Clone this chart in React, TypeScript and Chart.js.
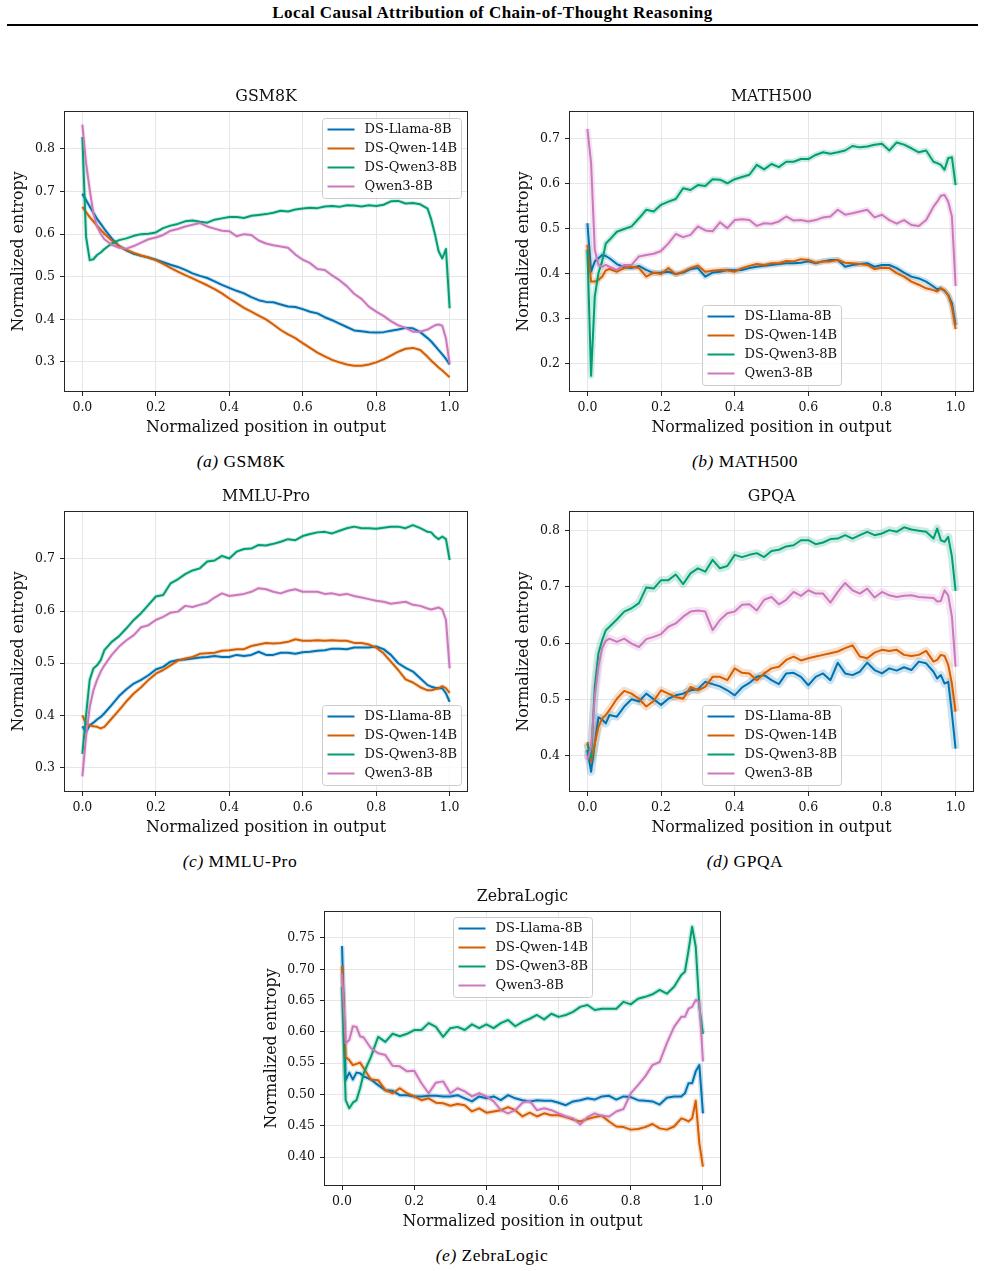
import { useEffect, useRef } from 'react';
import { Chart, registerables } from 'chart.js';

Chart.register(...registerables);

// Normalized positions along the output at which entropy was sampled.
const POSITIONS = [
  0, 0.01, 0.02, 0.03, 0.04, 0.05, 0.06,
  0.08, 0.10, 0.12, 0.14, 0.16, 0.18, 0.20, 0.22, 0.24, 0.26,
  0.28, 0.30, 0.32, 0.34, 0.36, 0.38, 0.40, 0.42, 0.44, 0.46,
  0.48, 0.50, 0.52, 0.54, 0.56, 0.58, 0.60, 0.62, 0.64, 0.66,
  0.68, 0.70, 0.72, 0.74, 0.76, 0.78, 0.80, 0.82, 0.84, 0.86,
  0.88, 0.90, 0.92, 0.94,
  0.95, 0.96, 0.97, 0.98, 0.99, 1.0,
];

const MODELS = ['DS-Llama-8B', 'DS-Qwen-14B', 'DS-Qwen3-8B', 'Qwen3-8B'];
const COLORS = ['#0173B2', '#D55E00', '#029E73', '#CC78BC'];

const X_TICKS = [0, 0.2, 0.4, 0.6, 0.8, 1.0];

// ---- GSM8K ----
const GSM8K_LLAMA = [
  0.695, 0.680, 0.665, 0.650, 0.636, 0.624, 0.612,
  0.590, 0.572, 0.562, 0.554, 0.549, 0.545, 0.540, 0.534, 0.528, 0.523,
  0.516, 0.508, 0.502, 0.497, 0.489, 0.481, 0.474, 0.467, 0.461, 0.452,
  0.445, 0.441, 0.440, 0.435, 0.430, 0.429, 0.424, 0.418, 0.414, 0.405,
  0.398, 0.390, 0.382, 0.374, 0.372, 0.370, 0.369, 0.370, 0.373, 0.376,
  0.380, 0.379, 0.370, 0.356,
  0.348, 0.338, 0.328, 0.318, 0.307, 0.294,
];
const GSM8K_QWEN14 = [
  0.664, 0.652, 0.640, 0.630, 0.620, 0.610, 0.601,
  0.585, 0.572, 0.563, 0.556, 0.550, 0.545, 0.539, 0.530, 0.521, 0.512,
  0.504, 0.496, 0.488, 0.480, 0.471, 0.461, 0.449, 0.438, 0.427, 0.418,
  0.409, 0.400, 0.388, 0.375, 0.365, 0.356, 0.344, 0.333, 0.322, 0.313,
  0.305, 0.299, 0.294, 0.291, 0.291, 0.294, 0.299, 0.306, 0.315, 0.324,
  0.331, 0.333, 0.328, 0.312,
  0.303, 0.295, 0.287, 0.280, 0.272, 0.264,
];
const GSM8K_QWEN3 = [
  0.828, 0.594, 0.539, 0.541, 0.551, 0.557, 0.565,
  0.578, 0.586, 0.590, 0.596, 0.600, 0.601, 0.604, 0.614, 0.620, 0.624,
  0.630, 0.632, 0.629, 0.627, 0.634, 0.637, 0.640, 0.640, 0.638, 0.643,
  0.645, 0.647, 0.650, 0.655, 0.653, 0.658, 0.660, 0.662, 0.661, 0.665,
  0.666, 0.664, 0.668, 0.667, 0.665, 0.668, 0.666, 0.669, 0.677, 0.678,
  0.672, 0.673, 0.670, 0.660,
  0.634, 0.600, 0.560, 0.543, 0.565, 0.426,
];
const GSM8K_BASE = [
  0.857, 0.767, 0.704, 0.649, 0.618, 0.601, 0.588,
  0.575, 0.568, 0.566, 0.572, 0.580, 0.588, 0.592, 0.598, 0.608, 0.612,
  0.618, 0.622, 0.626, 0.618, 0.613, 0.608, 0.607, 0.595, 0.600, 0.598,
  0.585, 0.578, 0.574, 0.571, 0.568, 0.552, 0.540, 0.532, 0.518, 0.516,
  0.503, 0.492, 0.478, 0.460, 0.448, 0.430, 0.418, 0.408, 0.396, 0.386,
  0.380, 0.371, 0.371, 0.376,
  0.381, 0.386, 0.388, 0.385, 0.355, 0.296,
];

// ---- MATH500 ----
const MATH_LLAMA = [
  0.512, 0.404, 0.427, 0.434, 0.441, 0.439, 0.434,
  0.421, 0.414, 0.412, 0.417, 0.408, 0.401, 0.402, 0.404, 0.399, 0.402,
  0.410, 0.412, 0.393, 0.402, 0.404, 0.408, 0.407, 0.408, 0.412, 0.415,
  0.417, 0.419, 0.421, 0.423, 0.423, 0.424, 0.427, 0.423, 0.427, 0.430,
  0.430, 0.415, 0.419, 0.421, 0.423, 0.415, 0.419, 0.419, 0.412, 0.402,
  0.393, 0.389, 0.382, 0.371,
  0.365, 0.367, 0.362, 0.352, 0.334, 0.285,
];
const MATH_QWEN14 = [
  0.464, 0.382, 0.382, 0.386, 0.393, 0.407, 0.410,
  0.404, 0.412, 0.415, 0.412, 0.393, 0.402, 0.399, 0.412, 0.398, 0.404,
  0.412, 0.418, 0.404, 0.406, 0.408, 0.407, 0.404, 0.412, 0.417, 0.421,
  0.419, 0.423, 0.423, 0.428, 0.427, 0.432, 0.430, 0.424, 0.427, 0.427,
  0.430, 0.424, 0.423, 0.421, 0.419, 0.410, 0.413, 0.412, 0.401, 0.393,
  0.382, 0.375, 0.367, 0.363,
  0.360, 0.367, 0.362, 0.352, 0.326, 0.276,
];
const MATH_QWEN3 = [
  0.453, 0.172, 0.349, 0.401, 0.427, 0.467, 0.475,
  0.493, 0.499, 0.505, 0.523, 0.542, 0.538, 0.553, 0.560, 0.566, 0.590,
  0.586, 0.597, 0.595, 0.610, 0.609, 0.601, 0.610, 0.615, 0.620, 0.642,
  0.632, 0.644, 0.637, 0.649, 0.649, 0.655, 0.655, 0.664, 0.670, 0.667,
  0.670, 0.674, 0.684, 0.681, 0.683, 0.687, 0.689, 0.674, 0.692, 0.687,
  0.679, 0.670, 0.674, 0.649,
  0.646, 0.642, 0.631, 0.657, 0.659, 0.597,
];
const MATH_BASE = [
  0.722, 0.646, 0.453, 0.419, 0.415, 0.419, 0.415,
  0.408, 0.419, 0.419, 0.438, 0.441, 0.444, 0.450, 0.467, 0.488, 0.481,
  0.486, 0.505, 0.496, 0.494, 0.514, 0.501, 0.519, 0.521, 0.519, 0.506,
  0.512, 0.511, 0.516, 0.527, 0.518, 0.519, 0.516, 0.519, 0.525, 0.527,
  0.542, 0.531, 0.534, 0.538, 0.542, 0.525, 0.531, 0.519, 0.511, 0.519,
  0.508, 0.506, 0.519, 0.549,
  0.560, 0.573, 0.575, 0.560, 0.527, 0.372,
];

// ---- MMLU-Pro ----
const MMLU_LLAMA = [
  0.379, 0.368, 0.381, 0.386, 0.392, 0.397, 0.404,
  0.420, 0.437, 0.450, 0.461, 0.468, 0.477, 0.488, 0.493, 0.503, 0.506,
  0.507, 0.509, 0.511, 0.512, 0.514, 0.512, 0.512, 0.516, 0.514, 0.516,
  0.522, 0.516, 0.516, 0.520, 0.520, 0.518, 0.521, 0.522, 0.524, 0.525,
  0.528, 0.528, 0.527, 0.530, 0.530, 0.530, 0.532, 0.527, 0.516, 0.500,
  0.491, 0.484, 0.471, 0.458,
  0.455, 0.453, 0.452, 0.452, 0.442, 0.426,
];
const MMLU_QWEN14 = [
  0.400, 0.384, 0.381, 0.379, 0.378, 0.375, 0.378,
  0.394, 0.410, 0.427, 0.442, 0.454, 0.468, 0.480, 0.487, 0.496, 0.505,
  0.509, 0.512, 0.518, 0.519, 0.520, 0.524, 0.525, 0.527, 0.527, 0.533,
  0.536, 0.539, 0.538, 0.539, 0.541, 0.546, 0.543, 0.543, 0.544, 0.543,
  0.544, 0.543, 0.543, 0.539, 0.539, 0.536, 0.530, 0.519, 0.503, 0.487,
  0.469, 0.463, 0.454, 0.448,
  0.448, 0.450, 0.452, 0.456, 0.452, 0.443,
];
const MMLU_QWEN3 = [
  0.326, 0.400, 0.468, 0.490, 0.496, 0.506, 0.525,
  0.541, 0.552, 0.567, 0.583, 0.596, 0.612, 0.628, 0.631, 0.653, 0.661,
  0.671, 0.678, 0.682, 0.695, 0.697, 0.706, 0.701, 0.714, 0.719, 0.720,
  0.727, 0.726, 0.729, 0.733, 0.738, 0.736, 0.744, 0.748, 0.751, 0.752,
  0.749, 0.754, 0.759, 0.762, 0.759, 0.759, 0.758, 0.760, 0.762, 0.762,
  0.759, 0.765, 0.759, 0.752,
  0.751, 0.743, 0.738, 0.743, 0.738, 0.698,
];
const MMLU_BASE = [
  0.283, 0.359, 0.416, 0.448, 0.468, 0.484, 0.496,
  0.516, 0.532, 0.544, 0.554, 0.569, 0.573, 0.583, 0.589, 0.597, 0.599,
  0.610, 0.608, 0.612, 0.616, 0.626, 0.634, 0.629, 0.631, 0.633, 0.637,
  0.644, 0.642, 0.637, 0.634, 0.639, 0.642, 0.637, 0.637, 0.637, 0.633,
  0.634, 0.631, 0.633, 0.629, 0.626, 0.623, 0.620, 0.618, 0.614, 0.616,
  0.618, 0.612, 0.610, 0.605,
  0.603, 0.605, 0.607, 0.603, 0.583, 0.490,
];

// ---- GPQA ----
const GPQA_LLAMA = [
  0.410, 0.371, 0.421, 0.468, 0.464, 0.457, 0.472,
  0.469, 0.487, 0.500, 0.496, 0.510, 0.500, 0.490, 0.501, 0.507, 0.510,
  0.516, 0.518, 0.531, 0.527, 0.523, 0.516, 0.507, 0.521, 0.529, 0.540,
  0.543, 0.534, 0.527, 0.546, 0.547, 0.540, 0.525, 0.540, 0.546, 0.534,
  0.565, 0.546, 0.543, 0.549, 0.565, 0.552, 0.546, 0.555, 0.551, 0.557,
  0.552, 0.567, 0.564, 0.549,
  0.537, 0.543, 0.528, 0.531, 0.475, 0.412,
];
const GPQA_QWEN14 = [
  0.424, 0.389, 0.421, 0.451, 0.466, 0.472, 0.481,
  0.501, 0.515, 0.510, 0.501, 0.487, 0.497, 0.516, 0.510, 0.504, 0.501,
  0.522, 0.516, 0.522, 0.540, 0.540, 0.534, 0.555, 0.547, 0.546, 0.534,
  0.546, 0.555, 0.558, 0.570, 0.576, 0.569, 0.573, 0.576, 0.579, 0.582,
  0.585, 0.591, 0.596, 0.576, 0.573, 0.583, 0.588, 0.586, 0.588, 0.579,
  0.577, 0.579, 0.586, 0.567,
  0.570, 0.579, 0.577, 0.561, 0.528, 0.478,
];
const GPQA_QWEN3 = [
  0.421, 0.395, 0.522, 0.582, 0.605, 0.623, 0.629,
  0.642, 0.656, 0.662, 0.671, 0.699, 0.697, 0.712, 0.712, 0.722, 0.705,
  0.724, 0.733, 0.727, 0.748, 0.733, 0.737, 0.757, 0.753, 0.757, 0.760,
  0.753, 0.764, 0.766, 0.772, 0.774, 0.783, 0.783, 0.776, 0.779, 0.785,
  0.786, 0.792, 0.786, 0.792, 0.798, 0.792, 0.795, 0.801, 0.798, 0.806,
  0.802, 0.800, 0.798, 0.786,
  0.804, 0.783, 0.780, 0.789, 0.754, 0.693,
];
const GPQA_BASE = [
  0.392, 0.415, 0.504, 0.558, 0.591, 0.604, 0.608,
  0.602, 0.608, 0.599, 0.593, 0.607, 0.611, 0.616, 0.629, 0.635, 0.647,
  0.656, 0.658, 0.656, 0.623, 0.641, 0.653, 0.656, 0.668, 0.669, 0.658,
  0.677, 0.682, 0.669, 0.677, 0.691, 0.684, 0.694, 0.688, 0.688, 0.672,
  0.691, 0.707, 0.694, 0.688, 0.697, 0.681, 0.691, 0.685, 0.682, 0.684,
  0.685, 0.682, 0.681, 0.680,
  0.674, 0.675, 0.694, 0.685, 0.647, 0.558,
];

// ---- ZebraLogic ----
const ZEBRA_LLAMA = [
  0.737, 0.523, 0.535, 0.524, 0.535, 0.534, 0.529,
  0.524, 0.515, 0.507, 0.506, 0.499, 0.499, 0.497, 0.497, 0.498, 0.498,
  0.497, 0.497, 0.499, 0.494, 0.489, 0.497, 0.494, 0.497, 0.491, 0.499,
  0.494, 0.491, 0.489, 0.491, 0.490, 0.490, 0.487, 0.483, 0.489, 0.491,
  0.494, 0.492, 0.497, 0.498, 0.492, 0.497, 0.496, 0.491, 0.490, 0.489,
  0.484, 0.495, 0.497, 0.497,
  0.502, 0.518, 0.518, 0.537, 0.547, 0.470,
];
const ZEBRA_QWEN14 = [
  0.705, 0.560, 0.555, 0.547, 0.549, 0.551, 0.542,
  0.524, 0.523, 0.507, 0.502, 0.510, 0.502, 0.497, 0.491, 0.494, 0.487,
  0.486, 0.482, 0.485, 0.483, 0.473, 0.478, 0.471, 0.473, 0.475, 0.480,
  0.475, 0.465, 0.471, 0.465, 0.470, 0.467, 0.467, 0.464, 0.460, 0.457,
  0.461, 0.464, 0.466, 0.457, 0.449, 0.448, 0.444, 0.445, 0.448, 0.453,
  0.446, 0.444, 0.449, 0.462,
  0.460, 0.457, 0.462, 0.490, 0.422, 0.385,
];
const ZEBRA_QWEN3 = [
  0.672, 0.491, 0.478, 0.487, 0.491, 0.510, 0.534,
  0.560, 0.592, 0.584, 0.597, 0.593, 0.597, 0.603, 0.603, 0.614, 0.608,
  0.592, 0.606, 0.608, 0.603, 0.612, 0.606, 0.612, 0.606, 0.614, 0.619,
  0.609, 0.616, 0.621, 0.627, 0.620, 0.629, 0.624, 0.627, 0.632, 0.640,
  0.643, 0.635, 0.637, 0.637, 0.637, 0.648, 0.644, 0.653, 0.656, 0.660,
  0.667, 0.661, 0.672, 0.691,
  0.696, 0.730, 0.768, 0.736, 0.640, 0.597,
];
const ZEBRA_BASE = [
  0.693, 0.582, 0.587, 0.609, 0.608, 0.593, 0.591,
  0.574, 0.566, 0.563, 0.546, 0.545, 0.537, 0.538, 0.518, 0.502, 0.519,
  0.521, 0.502, 0.510, 0.505, 0.497, 0.502, 0.497, 0.489, 0.475, 0.470,
  0.475, 0.487, 0.490, 0.475, 0.478, 0.475, 0.470, 0.465, 0.462, 0.452,
  0.464, 0.470, 0.466, 0.465, 0.473, 0.477, 0.502, 0.515, 0.529, 0.547,
  0.552, 0.582, 0.608, 0.624,
  0.624, 0.637, 0.640, 0.651, 0.648, 0.553,
];

const GSM8K_Y_TICKS = [0.3, 0.4, 0.5, 0.6, 0.7, 0.8];
const MATH_Y_TICKS = [0.2, 0.3, 0.4, 0.5, 0.6, 0.7];
const MMLU_Y_TICKS = [0.3, 0.4, 0.5, 0.6, 0.7];
const GPQA_Y_TICKS = [0.4, 0.5, 0.6, 0.7, 0.8];
const ZEBRA_Y_TICKS = [0.40, 0.45, 0.50, 0.55, 0.60, 0.65, 0.70, 0.75];

const PLOT_FONT = "'DejaVu Serif', serif";
const PAPER_FONT = "'Liberation Serif', 'Times New Roman', serif";

type LegendPlace = 'upper right' | 'lower center' | 'lower right' | 'upper center';

type Panel = {
  title: string;
  letter: string;
  series: number[][];
  yMin: number;
  yMax: number;
  yTicks: number[];
  yDecimals: number;
  box: { left: number; top: number; width: number; height: number };
  legend: LegendPlace;
  band: number;
  yLabelGap: number;
  caption: { x: number; y: number };
};

const PANELS: Panel[] = [
  {
    title: 'GSM8K', letter: '(a)',
    series: [GSM8K_LLAMA, GSM8K_QWEN14, GSM8K_QWEN3, GSM8K_BASE],
    yMin: 0.2295, yMax: 0.889, yTicks: GSM8K_Y_TICKS, yDecimals: 1,
    box: { left: 64, top: 111, width: 404, height: 281 },
    legend: 'upper right', band: 4, yLabelGap: 45,
    caption: { x: 241, y: 461 },
  },
  {
    title: 'MATH500', letter: '(b)',
    series: [MATH_LLAMA, MATH_QWEN14, MATH_QWEN3, MATH_BASE],
    yMin: 0.136, yMax: 0.762, yTicks: MATH_Y_TICKS, yDecimals: 1,
    box: { left: 569, top: 111, width: 405, height: 281 },
    legend: 'lower center', band: 6, yLabelGap: 45,
    caption: { x: 745, y: 461 },
  },
  {
    title: 'MMLU-Pro', letter: '(c)',
    series: [MMLU_LLAMA, MMLU_QWEN14, MMLU_QWEN3, MMLU_BASE],
    yMin: 0.253, yMax: 0.792, yTicks: MMLU_Y_TICKS, yDecimals: 1,
    box: { left: 64, top: 511, width: 404, height: 281 },
    legend: 'lower right', band: 4, yLabelGap: 45,
    caption: { x: 240, y: 861 },
  },
  {
    title: 'GPQA', letter: '(d)',
    series: [GPQA_LLAMA, GPQA_QWEN14, GPQA_QWEN3, GPQA_BASE],
    yMin: 0.335, yMax: 0.835, yTicks: GPQA_Y_TICKS, yDecimals: 1,
    box: { left: 569, top: 511, width: 405, height: 281 },
    legend: 'lower center', band: 8, yLabelGap: 45,
    caption: { x: 745, y: 861 },
  },
  {
    title: 'ZebraLogic', letter: '(e)',
    series: [ZEBRA_LLAMA, ZEBRA_QWEN14, ZEBRA_QWEN3, ZEBRA_BASE],
    yMin: 0.354, yMax: 0.793, yTicks: ZEBRA_Y_TICKS, yDecimals: 2,
    box: { left: 324, top: 911, width: 397, height: 275 },
    legend: 'upper center', band: 5, yLabelGap: 52,
    caption: { x: 492, y: 1255 },
  },
];

// Space around the axes box inside each canvas.
const PAD_LEFT = 64;
const PAD_TOP = 32;
const PAD_RIGHT = 14;
const PAD_BOTTOM = 52;

function withAlpha(hex: string, alpha: number): string {
  const r = parseInt(hex.slice(1, 3), 16);
  const g = parseInt(hex.slice(3, 5), 16);
  const b = parseInt(hex.slice(5, 7), 16);
  return `rgba(${r},${g},${b},${alpha})`;
}

// Draws the axes frame, title, axis labels and the boxed legend.
const decorPlugin = {
  id: 'panelDecor',
  afterDraw(chart: any, _args: any, opts: any) {
    const { ctx, chartArea } = chart;
    const { left, top, right, bottom } = chartArea;
    const cx = (left + right) / 2;
    const cy = (top + bottom) / 2;
    ctx.save();

    // frame
    ctx.strokeStyle = '#262626';
    ctx.lineWidth = 1;
    ctx.strokeRect(left + 0.5, top + 0.5, right - left - 1, bottom - top - 1);

    ctx.fillStyle = '#111';
    ctx.textAlign = 'center';
    ctx.textBaseline = 'middle';

    // title
    ctx.font = `15.8px ${PLOT_FONT}`;
    ctx.fillText(opts.title, cx, top - 14);

    // x label
    ctx.fillText('Normalized position in output', cx, bottom + 36);

    // y label
    ctx.save();
    ctx.translate(left - opts.yLabelGap, cy);
    ctx.rotate(-Math.PI / 2);
    ctx.fillText('Normalized entropy', 0, 0);
    ctx.restore();

    // legend
    const entries = chart.data.datasets.filter((d: any) => !d.isBand);
    const boxW = 139;
    const rowH = 19;
    const boxH = entries.length * rowH + 4;
    let bx = right - 7 - boxW;
    let by = top + 7;
    if (opts.legend === 'lower center') {
      bx = cx - boxW / 2;
      by = bottom - 7 - boxH;
    } else if (opts.legend === 'lower right') {
      by = bottom - 7 - boxH;
    } else if (opts.legend === 'upper center') {
      bx = cx - boxW / 2;
      by = top + 6;
    }
    bx = Math.round(bx) + 0.5;
    by = Math.round(by) + 0.5;
    ctx.beginPath();
    ctx.roundRect(bx, by, boxW, boxH, 3);
    ctx.fillStyle = 'rgba(255,255,255,0.8)';
    ctx.fill();
    ctx.strokeStyle = '#cccccc';
    ctx.lineWidth = 1;
    ctx.stroke();

    ctx.font = `13px ${PLOT_FONT}`;
    ctx.textAlign = 'left';
    entries.forEach((d: any, i: number) => {
      const ry = by + 11 + i * rowH;
      ctx.strokeStyle = d.borderColor;
      ctx.lineWidth = 2;
      ctx.beginPath();
      ctx.moveTo(bx + 5, ry);
      ctx.lineTo(bx + 32, ry);
      ctx.stroke();
      ctx.fillStyle = '#111';
      ctx.fillText(d.label, bx + 42, ry + 0.5);
    });

    ctx.restore();
  },
};

function PanelChart({ panel }: { panel: Panel }) {
  const ref = useRef<HTMLCanvasElement>(null);
  const width = panel.box.width + PAD_LEFT + PAD_RIGHT;
  const height = panel.box.height + PAD_TOP + PAD_BOTTOM;

  useEffect(() => {
    const canvas = ref.current;
    if (!canvas) return;
    const datasets: any[] = [];
    MODELS.forEach((name, i) => {
      const points = POSITIONS.map((x, j) => ({ x, y: panel.series[i][j] }));
      datasets.push({
        label: name,
        data: points,
        borderColor: COLORS[i],
        backgroundColor: COLORS[i],
        borderWidth: 2,
        pointRadius: 0,
        tension: 0,
        borderJoinStyle: 'round',
        order: 10 - i,
      });
      datasets.push({
        label: name,
        isBand: true,
        data: points,
        borderColor: withAlpha(COLORS[i], 0.2),
        borderWidth: panel.band,
        pointRadius: 0,
        tension: 0,
        borderJoinStyle: 'round',
        order: 100 - i,
      });
    });

    const tickFont = { family: PLOT_FONT, size: 12.5 };
    const chart = new Chart(canvas, {
      type: 'line',
      data: { datasets },
      plugins: [decorPlugin],
      options: {
        animation: false,
        responsive: false,
        maintainAspectRatio: false,
        devicePixelRatio: 1,
        layout: { padding: { top: PAD_TOP, right: PAD_RIGHT, left: 0, bottom: 0 } },
        plugins: {
          legend: { display: false },
          tooltip: { enabled: false },
          title: { display: false },
          panelDecor: {
            title: panel.title,
            legend: panel.legend,
            yLabelGap: panel.yLabelGap,
          },
        } as any,
        scales: {
          x: {
            type: 'linear',
            min: -0.05,
            max: 1.05,
            afterBuildTicks: (scale: any) => {
              scale.ticks = X_TICKS.map((v) => ({ value: v }));
            },
            afterFit: (scale: any) => {
              scale.height = PAD_BOTTOM;
            },
            ticks: {
              callback: (v: any) => Number(v).toFixed(1),
              font: tickFont,
              color: '#111',
              padding: 4,
              maxRotation: 0,
              autoSkip: false,
            },
            grid: {
              color: '#e6e6e6',
              lineWidth: 1,
              drawTicks: true,
              tickLength: 4,
              tickColor: '#262626',
              tickWidth: 1,
            },
            border: { display: false },
          },
          y: {
            type: 'linear',
            min: panel.yMin,
            max: panel.yMax,
            afterBuildTicks: (scale: any) => {
              scale.ticks = panel.yTicks.map((v) => ({ value: v }));
            },
            afterFit: (scale: any) => {
              scale.width = PAD_LEFT;
            },
            ticks: {
              callback: (v: any) => Number(v).toFixed(panel.yDecimals),
              font: tickFont,
              color: '#111',
              padding: 5,
              autoSkip: false,
            },
            grid: {
              color: '#e6e6e6',
              lineWidth: 1,
              drawTicks: true,
              tickLength: 4,
              tickColor: '#262626',
              tickWidth: 1,
            },
            border: { display: false },
          },
        },
      } as any,
    });
    return () => chart.destroy();
  }, [panel]);

  return (
    <canvas
      ref={ref}
      width={width}
      height={height}
      style={{
        position: 'absolute',
        left: panel.box.left - PAD_LEFT,
        top: panel.box.top - PAD_TOP,
        width,
        height,
      }}
    />
  );
}

export default function App() {
  return (
    <div style={{ position: 'absolute', left: 0, top: 0, width: 985, height: 1271, background: '#fff' }}>
      <div
        style={{
          position: 'absolute', left: 0, top: 3, width: 985, textAlign: 'center',
          fontFamily: PAPER_FONT, fontWeight: 'bold', fontSize: 17, letterSpacing: '0.45px',
          lineHeight: '20px', color: '#000',
        }}
      >
        Local Causal Attribution of Chain-of-Thought Reasoning
      </div>
      <div style={{ position: 'absolute', left: 7, top: 24, width: 971, height: 2, background: '#000' }} />
      {PANELS.map((p) => (
        <PanelChart key={p.title} panel={p} />
      ))}
      {PANELS.map((p) => (
        <div
          key={p.title + '-caption'}
          style={{
            position: 'absolute', left: p.caption.x - 120, top: p.caption.y - 11, width: 240,
            textAlign: 'center', fontFamily: PAPER_FONT, fontSize: 17.5, letterSpacing: '0.5px',
            lineHeight: '22px', color: '#000',
          }}
        >
          <span style={{ fontStyle: 'italic' }}>{p.letter}</span> {p.title}
        </div>
      ))}
    </div>
  );
}
